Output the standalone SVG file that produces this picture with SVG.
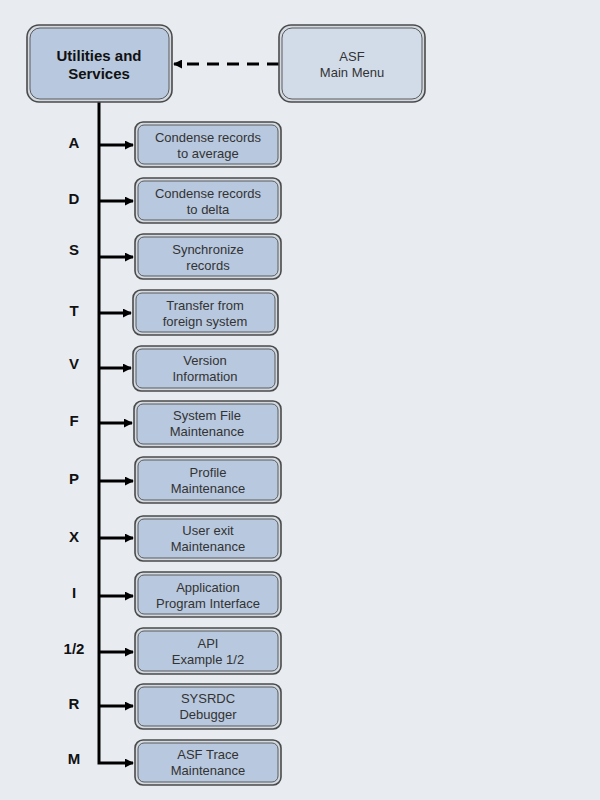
<svg xmlns="http://www.w3.org/2000/svg" width="600" height="800" viewBox="0 0 600 800">
<defs>
<marker id="ah" viewBox="0 0 10 10" refX="9" refY="5" markerWidth="9" markerHeight="9" markerUnits="userSpaceOnUse" orient="auto"><path d="M0,0 L10,5 L0,10 z" fill="#000"/></marker>
</defs>
<style>
.bg{fill:#e8ecf1}
.outer{fill:#d3d9e1;stroke:#4a4a4a;stroke-width:1.6}
.inner{fill:#b8c8de;stroke:#5a5a5a;stroke-width:1}
.innerL{fill:#d2dce9;stroke:#5a5a5a;stroke-width:1}
.t{font-family:"Liberation Sans",Arial,sans-serif;font-size:13px;fill:#333;text-anchor:middle}
.b{font-family:"Liberation Sans",Arial,sans-serif;font-size:15px;font-weight:bold;fill:#111;text-anchor:middle}
.l{font-family:"Liberation Sans",Arial,sans-serif;font-size:15px;font-weight:bold;fill:#111;text-anchor:middle}
.c{fill:none;stroke:#000;stroke-width:3}
</style>
<rect class="bg" x="0" y="0" width="600" height="800"/>
<g id="connectors">
<path class="c" d="M99,102 V763 H133" marker-end="url(#ah)"/>
<path class="c" d="M279,64 H174" stroke-dasharray="12 8" marker-end="url(#ah)"/>
<path class="c" d="M99,145 H133" marker-end="url(#ah)"/>
<path class="c" d="M99,201 H133" marker-end="url(#ah)"/>
<path class="c" d="M99,257 H133" marker-end="url(#ah)"/>
<path class="c" d="M99,313 H131" marker-end="url(#ah)"/>
<path class="c" d="M99,368 H131" marker-end="url(#ah)"/>
<path class="c" d="M99,423 H132" marker-end="url(#ah)"/>
<path class="c" d="M99,481 H133" marker-end="url(#ah)"/>
<path class="c" d="M99,538 H133" marker-end="url(#ah)"/>
<path class="c" d="M99,596 H133" marker-end="url(#ah)"/>
<path class="c" d="M99,652 H133" marker-end="url(#ah)"/>
<path class="c" d="M99,706 H133" marker-end="url(#ah)"/>
</g>
<g id="utilities">
<rect class="outer" x="27" y="25" width="145" height="77" rx="12"/>
<rect class="inner" x="30" y="28" width="139" height="71" rx="10"/>
<text class="b" x="99" y="61">Utilities and</text>
<text class="b" x="99" y="79">Services</text>
</g>
<g id="asf-main-menu">
<rect class="outer" x="279" y="25" width="146" height="77" rx="12"/>
<rect class="innerL" x="282" y="28" width="140" height="71" rx="10"/>
<text class="t" x="352" y="61">ASF</text>
<text class="t" x="352" y="77">Main Menu</text>
</g>
<g id="labels">
<text class="l" x="74" y="148">A</text>
<text class="l" x="74" y="204">D</text>
<text class="l" x="74" y="255">S</text>
<text class="l" x="74" y="316">T</text>
<text class="l" x="74" y="369">V</text>
<text class="l" x="74" y="426">F</text>
<text class="l" x="74" y="484">P</text>
<text class="l" x="74" y="542">X</text>
<text class="l" x="74" y="598">I</text>
<text class="l" x="74" y="654">1/2</text>
<text class="l" x="74" y="709">R</text>
<text class="l" x="74" y="764">M</text>
</g>
<g id="node-a">
<rect class="outer" x="135" y="122" width="146" height="45" rx="8"/>
<rect class="inner" x="138" y="125" width="140" height="39" rx="6"/>
<text class="t" x="208" y="142">Condense records</text>
<text class="t" x="208" y="158">to average</text>
</g>
<g id="node-d">
<rect class="outer" x="135" y="178" width="146" height="45" rx="8"/>
<rect class="inner" x="138" y="181" width="140" height="39" rx="6"/>
<text class="t" x="208" y="198">Condense records</text>
<text class="t" x="208" y="214">to delta</text>
</g>
<g id="node-s">
<rect class="outer" x="135" y="234" width="146" height="45" rx="8"/>
<rect class="inner" x="138" y="237" width="140" height="39" rx="6"/>
<text class="t" x="208" y="254">Synchronize</text>
<text class="t" x="208" y="270">records</text>
</g>
<g id="node-t">
<rect class="outer" x="133" y="290" width="145" height="45" rx="8"/>
<rect class="inner" x="136" y="293" width="139" height="39" rx="6"/>
<text class="t" x="205" y="310">Transfer from</text>
<text class="t" x="205" y="326">foreign system</text>
</g>
<g id="node-v">
<rect class="outer" x="133" y="346" width="145" height="45" rx="8"/>
<rect class="inner" x="136" y="349" width="139" height="39" rx="6"/>
<text class="t" x="205" y="365">Version</text>
<text class="t" x="205" y="381">Information</text>
</g>
<g id="node-f">
<rect class="outer" x="134" y="401" width="147" height="46" rx="8"/>
<rect class="inner" x="137" y="404" width="141" height="40" rx="6"/>
<text class="t" x="207" y="420">System File</text>
<text class="t" x="207" y="436">Maintenance</text>
</g>
<g id="node-p">
<rect class="outer" x="135" y="457" width="146" height="46" rx="8"/>
<rect class="inner" x="138" y="460" width="140" height="40" rx="6"/>
<text class="t" x="208" y="477">Profile</text>
<text class="t" x="208" y="493">Maintenance</text>
</g>
<g id="node-x">
<rect class="outer" x="135" y="516" width="146" height="45" rx="8"/>
<rect class="inner" x="138" y="519" width="140" height="39" rx="6"/>
<text class="t" x="208" y="535">User exit</text>
<text class="t" x="208" y="551">Maintenance</text>
</g>
<g id="node-i">
<rect class="outer" x="135" y="572" width="146" height="45" rx="8"/>
<rect class="inner" x="138" y="575" width="140" height="39" rx="6"/>
<text class="t" x="208" y="592">Application</text>
<text class="t" x="208" y="608">Program Interface</text>
</g>
<g id="node-12">
<rect class="outer" x="135" y="628" width="146" height="46" rx="8"/>
<rect class="inner" x="138" y="631" width="140" height="40" rx="6"/>
<text class="t" x="208" y="648">API</text>
<text class="t" x="208" y="664">Example 1/2</text>
</g>
<g id="node-r">
<rect class="outer" x="135" y="684" width="146" height="45" rx="8"/>
<rect class="inner" x="138" y="687" width="140" height="39" rx="6"/>
<text class="t" x="208" y="703">SYSRDC</text>
<text class="t" x="208" y="719">Debugger</text>
</g>
<g id="node-m">
<rect class="outer" x="135" y="740" width="146" height="45" rx="8"/>
<rect class="inner" x="138" y="743" width="140" height="39" rx="6"/>
<text class="t" x="208" y="759">ASF Trace</text>
<text class="t" x="208" y="775">Maintenance</text>
</g>
</svg>
